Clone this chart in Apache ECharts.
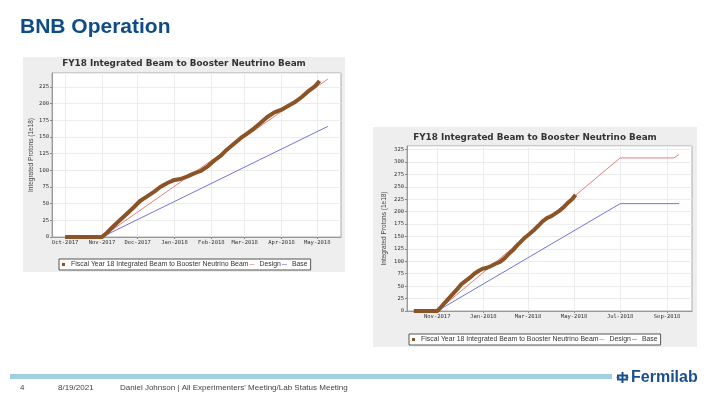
<!DOCTYPE html>
<html>
<head>
<meta charset="utf-8">
<script src="https://cdn.jsdelivr.net/npm/echarts@6/dist/echarts.min.js"></script>
<style>
html,body{margin:0;padding:0;background:#fff;}
#c{width:720px;height:405px;}
</style>
</head>
<body>
<div id="c"></div>
<script>
// ---- Data ----
const actualDates = ['2017-10-01','2017-11-01','2017-11-05','2017-11-10','2017-11-16','2017-11-22','2017-11-28','2017-12-03','2017-12-09','2017-12-15','2017-12-20','2017-12-26','2017-12-31','2018-01-06','2018-01-12','2018-01-17','2018-01-23','2018-01-29','2018-02-03','2018-02-09','2018-02-14','2018-02-20','2018-02-26','2018-03-03','2018-03-09','2018-03-15','2018-03-20','2018-03-26','2018-04-01','2018-04-06','2018-04-12','2018-04-18','2018-04-23','2018-04-29','2018-05-03'];
const actualValues = [0,0,6,15,25,35,45,54,61,68,75,81,85,87,91,95,99,106,114,122,131,140,149,155,163,172,180,187,191,196,202,210,218,226,234];

const designLeftDates = ['2017-10-01','2017-11-01','2018-05-10'];
const designLeftValues = [0,0,237];
const baseLeftDates = ['2017-10-01','2017-11-01','2018-05-10'];
const baseLeftValues = [0,0,166];

const designRightDates = ['2017-10-01','2017-11-01','2018-07-01','2018-09-10','2018-09-17'];
const designRightValues = [0,0,308,308,315];
const baseRightDates = ['2017-10-01','2017-11-01','2018-07-01','2018-09-17'];
const baseRightValues = [0,0,216,216];

const leftTickDates = ['2017-10-01','2017-11-01','2017-12-01','2018-01-01','2018-02-01','2018-03-01','2018-04-01','2018-05-01'];
const rightTickDates = ['2017-11-01','2018-01-01','2018-03-01','2018-05-01','2018-07-01','2018-09-01'];
const monthNames = ['Jan','Feb','Mar','Apr','May','Jun','Jul','Aug','Sep','Oct','Nov','Dec'];

const seriesNames = ['Fiscal Year 18 Integrated Beam to Booster Neutrino Beam','Design','Base'];
const chartTitle = 'FY18 Integrated Beam to Booster Neutrino Beam';
const yAxisName = 'Integrated Protons (1e18)';

// ---- Build ----
const pair = (ds, vs) => ds.map((d, i) => [Date.parse(d), vs[i]]);
const fmt = v => { const d = new Date(v); return monthNames[d.getUTCMonth()] + '-' + d.getUTCFullYear(); };
const BROWN = '#8a5426', RED = '#e3817b', BLUE = '#7373d9';

function xAxis(gi, min, max, ticks) {
  const tv = ticks.map(t => Date.parse(t));
  return {
    type: 'value', gridIndex: gi, min: Date.parse(min), max: Date.parse(max), scale: true,
    axisLine: {show: true, onZero: false, lineStyle: {color: '#999', width: 1}},
    axisTick: {show: true, length: 2, lineStyle: {color: '#888'}, customValues: tv},
    axisLabel: {customValues: tv, formatter: fmt, fontSize: 5.5, fontFamily: 'DejaVu Sans Mono', color: '#333', margin: 3, hideOverlap: false},
    splitLine: {show: true, lineStyle: {color: '#ececec', width: 1}}
  };
}
function yAxis(gi, max, gap) {
  return {
    type: 'value', gridIndex: gi, min: 0, max: max, interval: 25,
    name: yAxisName, nameLocation: 'middle', nameRotate: 90, nameGap: gap,
    nameTextStyle: {fontSize: 6.5, fontFamily: 'Liberation Sans', color: '#444'},
    axisLine: {show: true, lineStyle: {color: '#999', width: 1}},
    axisTick: {show: true, length: 2, lineStyle: {color: '#888'}},
    axisLabel: {fontSize: 5.5, fontFamily: 'DejaVu Sans Mono', color: '#333', margin: 3, showMaxLabel: false},
    splitLine: {show: true, lineStyle: {color: '#ececec', width: 1}}
  };
}
function line(name, gi, data, color, width, z) {
  return {type: 'line', name: name, xAxisIndex: gi, yAxisIndex: gi, data: data, symbol: 'none',
    lineStyle: {color: color, width: width}, itemStyle: {color: color}, z: z, animation: false};
}
function legend(left, top) {
  return {
    left: left, top: top, orient: 'horizontal', padding: [2, 3, 2, 3], itemGap: 1,
    itemWidth: 5, itemHeight: 3, borderColor: '#555', borderWidth: 1, backgroundColor: '#fff',
    textStyle: {fontSize: 6.9, fontFamily: 'Liberation Sans', color: '#333'},
    selectedMode: false,
    data: [
      {name: seriesNames[0], icon: 'path://M0,0h10v10h-10z'},
      {name: seriesNames[1], icon: 'path://M0,0h8v1h-8z'},
      {name: seriesNames[2], icon: 'path://M0,0h8v1h-8z'}
    ]
  };
}

const chart = echarts.init(document.getElementById('c'), null, {renderer: 'canvas'});
chart.setOption({
  animation: false,
  backgroundColor: '#fff',
  graphic: [
    {type: 'rect', shape: {x: 23, y: 57, width: 322, height: 215}, style: {fill: '#eeeeee'}, z: -10, silent: true},
    {type: 'rect', shape: {x: 373, y: 127, width: 324, height: 220}, style: {fill: '#eeeeee'}, z: -10, silent: true},
    {type: 'text', x: 20, y: 27, style: {text: 'BNB Operation', font: 'bold 21px "Liberation Sans", Arial, sans-serif', fill: '#0f4c86', textVerticalAlign: 'middle'}},
    {type: 'text', x: 184, y: 64, style: {text: chartTitle, font: 'bold 8.8px "DejaVu Sans", sans-serif', fill: '#333', textAlign: 'center', textVerticalAlign: 'middle'}},
    {type: 'text', x: 535, y: 138, style: {text: chartTitle, font: 'bold 8.8px "DejaVu Sans", sans-serif', fill: '#333', textAlign: 'center', textVerticalAlign: 'middle'}},
    {type: 'rect', shape: {x: 10, y: 374, width: 602, height: 5}, style: {fill: '#9fd1e2'}, silent: true},
    {type: 'text', x: 20, y: 388, style: {text: '4', font: '8px "Liberation Sans", Arial, sans-serif', fill: '#444', textVerticalAlign: 'middle'}},
    {type: 'text', x: 58, y: 388, style: {text: '8/19/2021', font: '8px "Liberation Sans", Arial, sans-serif', fill: '#444', textVerticalAlign: 'middle'}},
    {type: 'text', x: 120, y: 388, style: {text: "Daniel Johnson | All Experimenters' Meeting/Lab Status Meeting", font: '8px "Liberation Sans", Arial, sans-serif', fill: '#444', textVerticalAlign: 'middle'}},
    {type: 'group', x: 617, y: 372, children: [
      {type: 'rect', shape: {x: 4.5, y: 0, width: 2, height: 11}, style: {fill: '#1a4f8e'}},
      {type: 'rect', shape: {x: 0, y: 2.5, width: 11, height: 2}, style: {fill: '#1a4f8e'}},
      {type: 'rect', shape: {x: 0, y: 6.5, width: 11, height: 2}, style: {fill: '#1a4f8e'}},
      {type: 'circle', shape: {cx: 1, cy: 5.5, r: 1.4}, style: {fill: '#1a4f8e'}},
      {type: 'circle', shape: {cx: 10, cy: 5.5, r: 1.4}, style: {fill: '#1a4f8e'}}
    ]},
    {type: 'text', x: 631, y: 378, style: {text: 'Fermilab', font: 'bold 16px "Liberation Sans", Arial, sans-serif', fill: '#1a4f8e', textVerticalAlign: 'middle'}}
  ],
  grid: [
    {left: 52, top: 73, width: 289, height: 164, show: true, backgroundColor: '#fff', borderColor: '#aaa', borderWidth: 1},
    {left: 407, top: 146, width: 285, height: 165, show: true, backgroundColor: '#fff', borderColor: '#aaa', borderWidth: 1}
  ],
  xAxis: [
    xAxis(0, '2017-09-20', '2018-05-21', leftTickDates),
    xAxis(1, '2017-09-22', '2018-10-04', rightTickDates)
  ],
  yAxis: [yAxis(0, 246, 16), yAxis(1, 332, 19)],
  legend: [legend(59, 259), legend(409, 334)],
  series: [
    line(seriesNames[1], 0, pair(designLeftDates, designLeftValues), RED, 1, 2),
    line(seriesNames[2], 0, pair(baseLeftDates, baseLeftValues), BLUE, 1, 2),
    line(seriesNames[0], 0, pair(actualDates, actualValues), BROWN, 4, 3),
    line(seriesNames[1], 1, pair(designRightDates, designRightValues), RED, 1, 2),
    line(seriesNames[2], 1, pair(baseRightDates, baseRightValues), BLUE, 1, 2),
    line(seriesNames[0], 1, pair(actualDates, actualValues), BROWN, 4, 3)
  ]
});
</script>
</body>
</html>
